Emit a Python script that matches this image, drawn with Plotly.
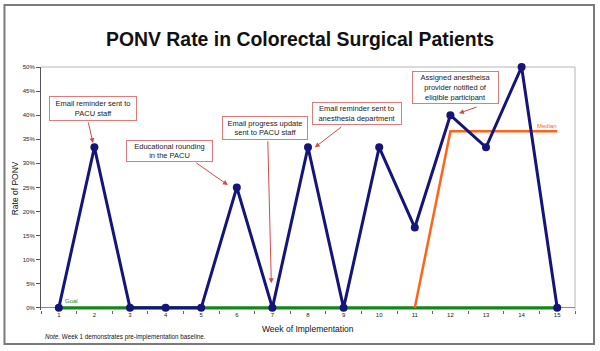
import plotly.graph_objects as go

# ---- data ----
weeks = list(range(1, 16))
ponv_rate = [0, 0.3333, 0, 0, 0, 0.25, 0, 0.3333, 0, 0.3333, 0.1667, 0.40, 0.3333, 0.50, 0]
median_weeks = [11, 12, 13, 14, 15]
median_rate = [0, 0.3667, 0.3667, 0.3667, 0.3667]
goal_weeks = list(range(1, 16))
goal_rate = [0] * 15
y_ticks = [0, 0.05, 0.10, 0.15, 0.20, 0.25, 0.30, 0.35, 0.40, 0.45, 0.50]

# interventions: (label, box_x, box_y, tail_x, tail_y, head_x, head_y)
events = [
    ("Email reminder sent to<br>PACU staff", 1.97, 0.413, 1.82, 0.388, 1.96, 0.342),
    ("Educational rounding<br>in the PACU", 4.12, 0.326, 4.82, 0.303, 5.75, 0.255),
    ("Email progress update<br>sent to PACU staff", 6.79, 0.373, 6.87, 0.349, 6.97, 0.051),
    ("Email reminder sent to<br>anesthesia department", 9.38, 0.403, 8.98, 0.378, 8.19, 0.333),
    ("Assigned anestheisa<br>provider notified of<br>eligible participant", 12.15, 0.458, 12.78, 0.418, 12.24, 0.404),
]
box_sizes = [(82, 19), (81, 16), (80, 18), (84, 17), (81, 27)]

FONT = "Liberation Sans, Arial, sans-serif"
NAVY = "#14147a"
ORANGE = "#ff6418"
GREEN = "#15861a"
BOXRED = "#de7b7b"
ARROWRED = "#d44a4a"

fig = go.Figure()
fig.add_trace(go.Scatter(x=goal_weeks, y=goal_rate, mode="lines",
                         line=dict(color=GREEN, width=3.2), cliponaxis=False,
                         hoverinfo="skip"))
fig.add_trace(go.Scatter(x=median_weeks, y=median_rate, mode="lines",
                         line=dict(color=ORANGE, width=2.5), cliponaxis=False))
fig.add_trace(go.Scatter(x=weeks, y=ponv_rate, mode="lines+markers",
                         line=dict(color=NAVY, width=3),
                         marker=dict(color=NAVY, size=8),
                         cliponaxis=False))

annotations = []
for (label, bx, by, tx, ty, hx, hy), (w, h) in zip(events, box_sizes):
    annotations.append(dict(x=bx, y=by, xref="x", yref="y", text=label,
                            showarrow=False, font=dict(family=FONT, size=7.5, color="#222"),
                            bgcolor="white", bordercolor=BOXRED, borderwidth=1,
                            borderpad=2, width=w, height=h, align="center",
                            xanchor="center", yanchor="middle"))
    annotations.append(dict(x=hx, y=hy, xref="x", yref="y", ax=tx, ay=ty,
                            axref="x", ayref="y", text="", showarrow=True,
                            arrowhead=2, arrowsize=1, arrowwidth=1,
                            arrowcolor=ARROWRED, standoff=0))

annotations += [
    dict(x=1.37, y=0.014, xref="x", yref="y", text="Goal", showarrow=False,
         font=dict(family=FONT, size=6, color=GREEN), xanchor="center", yanchor="middle"),
    dict(x=14.7, y=0.378, xref="x", yref="y", text="Median", showarrow=False,
         font=dict(family=FONT, size=6, color=ORANGE), xanchor="center", yanchor="middle"),
    dict(x=-0.049, y=0.5, xref="paper", yref="paper", text="Rate of PONV",
         textangle=-90, showarrow=False, font=dict(family=FONT, size=8.5, color="#111"),
         xanchor="center", yanchor="middle"),
    dict(x=0.5, y=-0.078, xref="paper", yref="paper", text="Week of Implementation",
         showarrow=False, font=dict(family=FONT, size=8.5, color="#111"),
         xanchor="center", yanchor="middle"),
    dict(x=0.004, y=-0.11, xref="paper", yref="paper",
         text="<i>Note.</i> Week 1 demonstrates pre-implementation baseline.",
         showarrow=False, font=dict(family=FONT, size=6.3, color="#111"),
         xanchor="left", yanchor="middle"),
]

shapes = [
    # outer frame
    dict(type="rect", xref="paper", yref="paper", x0=-0.0684, x1=1.0356,
         y0=-0.14, y1=1.255, line=dict(color="#7a7a7a", width=2), layer="below"),
    # plot-area frame (top/right light grey)
    dict(type="line", xref="paper", yref="paper", x0=0, x1=1, y0=1, y1=1,
         line=dict(color="#b5b5b5", width=1), layer="below"),
    dict(type="line", xref="paper", yref="paper", x0=1, x1=1, y0=0, y1=1,
         line=dict(color="#b5b5b5", width=1), layer="below"),
]

fig.update_layout(
    width=600, height=351,
    margin=dict(l=41, r=25, t=67, b=41),
    paper_bgcolor="white", plot_bgcolor="white",
    showlegend=False,
    title=dict(text="<b>PONV Rate in Colorectal Surgical Patients</b>",
               x=0.5, xref="container", y=1 - 39 / 351, yref="container",
               xanchor="center", yanchor="middle",
               font=dict(family=FONT, size=19.4, color="#111")),
    annotations=annotations,
    shapes=shapes,
)
fig.update_xaxes(range=[0.5, 15.5], tickvals=weeks, ticktext=[str(w) for w in weeks],
                 ticks="", showgrid=False, zeroline=False, showline=False,
                 tickfont=dict(family=FONT, size=6, color="#222"),
                 minor=dict(tick0=0.5, dtick=1, ticks="outside", ticklen=3,
                            tickcolor="#666", showgrid=False))
fig.update_yaxes(range=[-0.0045, 0.5], tickvals=y_ticks, tickformat=".0%",
                 ticks="outside", ticklen=4, tickcolor="#555",
                 showgrid=False, zeroline=True, zerolinecolor="#8a8a8a", zerolinewidth=1,
                 showline=True, linecolor="#555", linewidth=1,
                 tickfont=dict(family=FONT, size=6, color="#222"))

fig.write_html("out.html")
